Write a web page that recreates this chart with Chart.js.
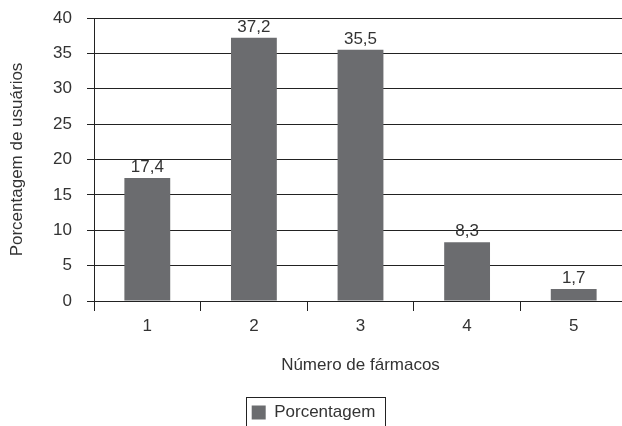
<!DOCTYPE html>
<html>
<head>
<meta charset="utf-8">
<script src="https://cdn.jsdelivr.net/npm/chart.js@4/dist/chart.umd.min.js"></script>
<style>
  html, body { margin: 0; padding: 0; background: #fff; overflow: hidden; }
  #wrap { width: 622px; height: 426px; overflow: hidden; position: relative; }
  canvas { display: block; }
</style>
</head>
<body>
<div id="wrap"><canvas id="c" width="640" height="431"></canvas></div>
<script>
const categories = ['1', '2', '3', '4', '5'];
const percentages = [17.4, 37.2, 35.5, 8.3, 1.7];
const seriesName = 'Porcentagem';
const yTitle = 'Porcentagem de usuários';
const xTitle = 'Número de fármacos';

const FONT = "'Liberation Sans', Arial, sans-serif";
const TEXT = '#333333';
const LINE = '#222222';
const BAR = '#6b6c6f';

const valueLabels = {
  id: 'valueLabels',
  afterDatasetsDraw(chart) {
    const ctx = chart.ctx;
    const meta = chart.getDatasetMeta(0);
    ctx.save();
    ctx.font = '17px ' + FONT;
    ctx.fillStyle = TEXT;
    ctx.textAlign = 'center';
    ctx.textBaseline = 'alphabetic';
    meta.data.forEach((bar, i) => {
      const v = chart.data.datasets[0].data[i];
      ctx.fillText(String(v).replace('.', ','), bar.x, bar.y - 6);
    });
    ctx.restore();
  }
};

const legendBorder = {
  id: 'legendBorder',
  afterDraw(chart) {
    const lg = chart.legend;
    if (!lg || !lg.legendHitBoxes || !lg.legendHitBoxes.length) return;
    const hb = lg.legendHitBoxes[0];
    const ctx = chart.ctx;
    ctx.save();
    ctx.strokeStyle = LINE;
    ctx.lineWidth = 1;
    const l = Math.round(hb.left - 6) + 0.5;
    const t = Math.round(hb.top - 7) + 0.5;
    const r = Math.round(hb.left + hb.width + 10) + 0.5;
    const b = Math.round(hb.top + hb.height + 7) + 0.5;
    ctx.strokeRect(l, t, r - l, b - t);
    ctx.restore();
  }
};

new Chart(document.getElementById('c'), {
  type: 'bar',
  data: {
    labels: categories,
    datasets: [{
      label: seriesName,
      data: percentages,
      backgroundColor: BAR,
      borderWidth: 0,
      categoryPercentage: 1.0,
      barPercentage: 0.43
    }]
  },
  options: {
    responsive: false,
    animation: false,
    devicePixelRatio: 1,
    layout: { padding: { top: 18, right: 13, left: 0, bottom: 0 } },
    plugins: {
      legend: {
        display: true,
        position: 'bottom',
        labels: {
          font: { family: FONT, size: 17 },
          color: TEXT,
          boxWidth: 14,
          boxHeight: 14,
          padding: 28
        }
      },
      tooltip: { enabled: false },
      title: { display: false }
    },
    scales: {
      x: {
        afterFit(scale) { scale.height = 75; },
        grid: {
          display: true,
          drawOnChartArea: false,
          drawTicks: true,
          tickLength: 10,
          color: LINE,
          lineWidth: 1,
          offset: true
        },
        border: { display: true, color: LINE, width: 1 },
        ticks: {
          font: { family: FONT, size: 17 },
          color: TEXT,
          padding: 5,
          maxRotation: 0
        },
        title: {
          display: true,
          text: xTitle,
          font: { family: FONT, size: 17 },
          color: TEXT,
          padding: { top: 0, bottom: 0 }
        }
      },
      y: {
        min: 0,
        max: 40,
        afterFit(scale) {
          scale.width = 94;
          scale.paddingTop = 0;
          scale.paddingBottom = 0;
        },
        grid: {
          color: LINE,
          lineWidth: 1,
          tickLength: 7,
          drawTicks: true
        },
        border: { display: true, color: LINE, width: 1 },
        ticks: {
          stepSize: 5,
          font: { family: FONT, size: 17 },
          color: TEXT,
          padding: 15
        },
        title: {
          display: true,
          text: yTitle,
          font: { family: FONT, size: 17 },
          color: TEXT,
          padding: { top: 7, bottom: 0 }
        }
      }
    }
  },
  plugins: [valueLabels, legendBorder]
});
</script>
</body>
</html>
